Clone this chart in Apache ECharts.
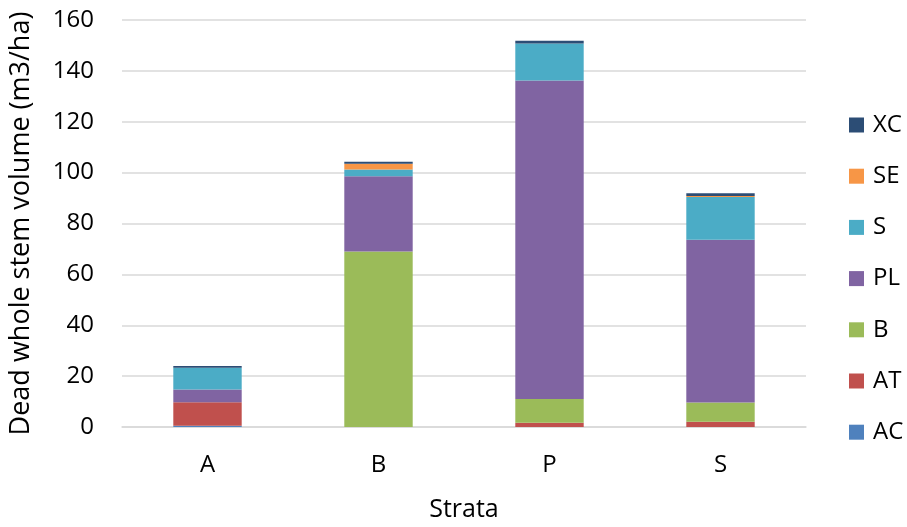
<!DOCTYPE html>
<html>
<head>
<meta charset="utf-8">
<script src="https://cdn.jsdelivr.net/npm/echarts@6/dist/echarts.min.js"></script>
<style>html,body{margin:0;padding:0;background:#fff}#c{width:907px;height:527px}</style>
</head>
<body>
<div id="c"></div>
<script>
const categories = ['A', 'B', 'P', 'S'];
const AC = [0.5, 0, 0, 0];
const AT = [9.2, 0, 1.7, 2.1];
const B  = [0, 69.0, 9.3, 7.5];
const PL = [5.0, 29.6, 125.2, 64.0];
const S  = [8.6, 2.6, 14.6, 16.8];
const SE = [0, 2.3, 0, 0.4];
const XC = [0.7, 0.8, 1.0, 1.1];
const yTicks = [0, 20, 40, 60, 80, 100, 120, 140, 160];

const seriesDefs = [
  ['AC', AC, '#4F81BD'],
  ['AT', AT, '#C0504D'],
  ['B', B, '#9BBB59'],
  ['PL', PL, '#8064A2'],
  ['S', S, '#4BACC6'],
  ['SE', SE, '#F79646'],
  ['XC', XC, '#2C4D75']
];
const font = '"Open Sans", "Liberation Sans", sans-serif';
const chart = echarts.init(document.getElementById('c'), null, {renderer: 'canvas'});
chart.setOption({
  animation: false,
  textStyle: {fontFamily: font},
  grid: {left: 121, right: 101, top: 20, bottom: 93, containLabel: false},
  legend: {
    orient: 'vertical',
    left: 849,
    top: 113,
    padding: 0,
    itemWidth: 15,
    itemHeight: 15,
    itemGap: 27.2,
    icon: 'rect',
    data: seriesDefs.map(d => d[0]).reverse(),
    textStyle: {fontSize: 24, color: '#000', fontFamily: font, padding: [0, 0, 0, 4]}
  },
  xAxis: {
    type: 'category',
    data: categories,
    name: 'Strata',
    nameLocation: 'middle',
    nameGap: 70,
    nameTextStyle: {fontSize: 25, color: '#000', fontFamily: font},
    axisLine: {show: true, lineStyle: {color: '#d9d9d9', width: 1.5}},
    axisTick: {show: false},
    axisLabel: {fontSize: 24, color: '#000', margin: 26, fontFamily: font}
  },
  yAxis: {
    type: 'value',
    min: 0,
    max: 160,
    interval: 20,
    name: 'Dead whole stem volume (m3/ha)',
    nameLocation: 'middle',
    nameGap: 87,
    nameTextStyle: {fontSize: 27, color: '#000', fontFamily: font},
    axisLine: {show: false},
    axisTick: {show: false},
    splitLine: {lineStyle: {color: '#d9d9d9', width: 1.5}},
    axisLabel: {fontSize: 24, color: '#000', margin: 28, fontFamily: font,
      formatter: v => yTicks.includes(v) ? String(v) : ''}
  },
  series: seriesDefs.map(d => ({
    name: d[0],
    type: 'bar',
    stack: 'total',
    data: d[1],
    barWidth: '40%',
    itemStyle: {color: d[2]}
  }))
});
</script>
</body>
</html>
